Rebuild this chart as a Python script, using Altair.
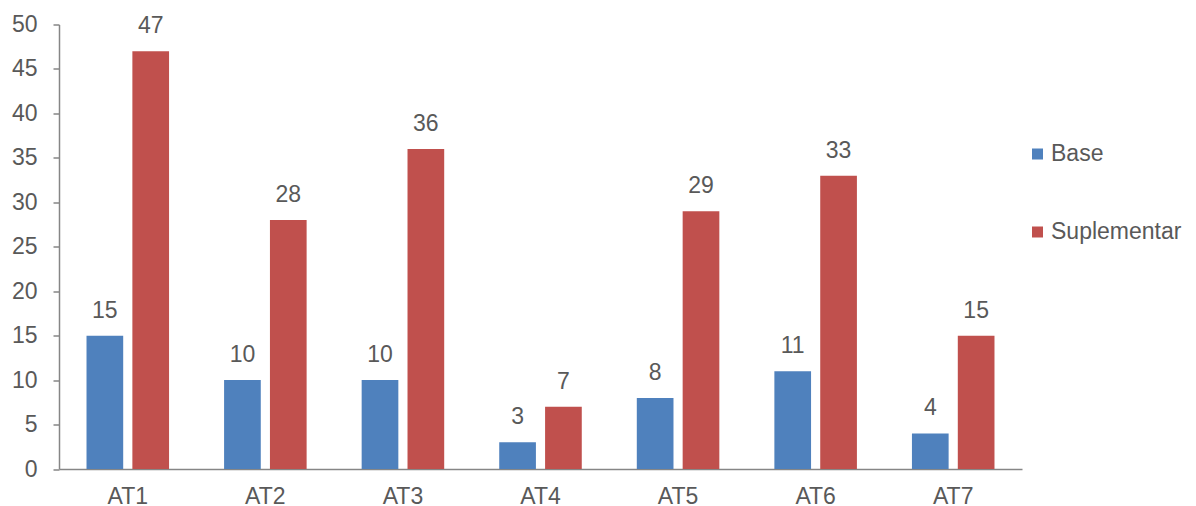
import altair as alt
import pandas as pd

categories = ["AT1", "AT2", "AT3", "AT4", "AT5", "AT6", "AT7"]
series_names = ["Base", "Suplementar"]
base_values = [15, 10, 10, 3, 8, 11, 4]
supl_values = [47, 28, 36, 7, 29, 33, 15]
colors = ["#4F81BD", "#C0504D"]
y_ticks = list(range(0, 51, 5))

rows = []
for c, b, s in zip(categories, base_values, supl_values):
    rows.append({"cat": c, "serie": "Base", "value": b})
    rows.append({"cat": c, "serie": "Suplementar", "value": s})
df = pd.DataFrame(rows)

FONT = "Liberation Sans"
TXT = "#595959"
AXC = "#868686"
FS = 23

x = alt.X("cat:N", sort=categories, title=None,
          scale=alt.Scale(paddingInner=0.4, paddingOuter=0.2),
          axis=alt.Axis(labelAngle=0, ticks=False, labelPadding=16, labelFontSize=FS,
                        labelFont=FONT, labelColor=TXT, domainColor=AXC, domainWidth=1.5))
xoff = alt.XOffset("serie:N", sort=series_names, scale=alt.Scale(paddingInner=0.2, paddingOuter=0))
y = alt.Y("value:Q", title=None,
          scale=alt.Scale(domain=[0, 50], nice=False),
          axis=alt.Axis(values=y_ticks, grid=False, tickSize=6, tickColor=AXC, tickWidth=1.5,
                        domainColor=AXC, domainWidth=1.5, labelPadding=16, labelFontSize=FS,
                        labelFont=FONT, labelColor=TXT))
color = alt.Color("serie:N", sort=series_names,
                  scale=alt.Scale(domain=series_names, range=colors),
                  legend=alt.Legend(title=None, orient="none", legendX=967, legendY=118,
                                    symbolType="square", symbolSize=121, symbolStrokeWidth=0,
                                    labelFontSize=FS, labelFont=FONT, labelColor=TXT,
                                    labelOffset=2, rowPadding=54, padding=0))

bars = alt.Chart(df).mark_bar().encode(x=x, xOffset=xoff, y=y, color=color)
labels = alt.Chart(df).mark_text(dy=-18, baseline="alphabetic", fontSize=FS, font=FONT,
                                  color=TXT).encode(x=x, xOffset=xoff, y=y, text="value:Q")

chart = (bars + labels).properties(
    width=963, height=444.5,
    background="white",
    autosize=alt.AutoSizeParams(type="none"),
    padding={"left": 59, "top": 24.5, "right": 174, "bottom": 37},
).configure_view(stroke=None)

chart.save("out.html", embed_options={"renderer": "svg", "actions": False})
